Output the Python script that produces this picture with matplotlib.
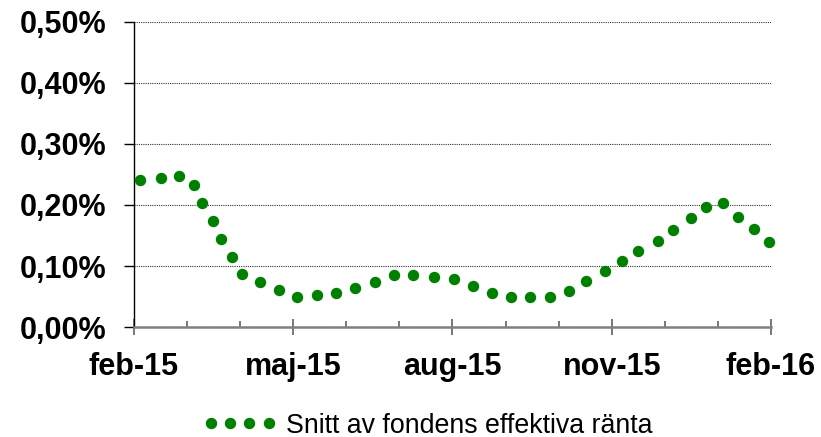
import matplotlib
matplotlib.use("Agg")
import matplotlib.pyplot as plt
from matplotlib.ticker import FuncFormatter, MultipleLocator, FixedLocator
import calendar
import numpy as np

# data
dates = [
    "2015-02-04", "2015-02-15", "2015-02-25", "2015-03-05", "2015-03-10",
    "2015-03-16", "2015-03-21", "2015-03-27", "2015-04-02", "2015-04-12",
    "2015-04-23", "2015-05-03", "2015-05-15", "2015-05-26", "2015-06-06",
    "2015-06-17", "2015-06-28", "2015-07-09", "2015-07-21", "2015-08-02",
    "2015-08-13", "2015-08-24", "2015-09-04", "2015-09-15", "2015-09-26",
    "2015-10-07", "2015-10-17", "2015-10-28", "2015-11-07", "2015-11-16",
    "2015-11-27", "2015-12-06", "2015-12-16", "2015-12-25", "2016-01-04",
    "2016-01-13", "2016-01-22", "2016-01-31",
]
rate = [
    0.241, 0.245, 0.248, 0.232, 0.203, 0.174, 0.144, 0.115, 0.087, 0.074,
    0.060, 0.049, 0.052, 0.056, 0.064, 0.074, 0.085, 0.085, 0.082, 0.078,
    0.067, 0.056, 0.049, 0.049, 0.049, 0.059, 0.075, 0.092, 0.109, 0.125,
    0.141, 0.159, 0.178, 0.196, 0.203, 0.181, 0.161, 0.140,
]
series_label = "Snitt av fondens effektiva ränta"
sv_months = ["jan", "feb", "mar", "apr", "maj", "jun",
             "jul", "aug", "sep", "okt", "nov", "dec"]
start_year, start_month = 2015, 2


def month_pos(d):
    # Excel-style month axis: every month gets the same width
    y, m, day = (int(p) for p in d.split("-"))
    ndays = calendar.monthrange(y, m)[1]
    return (y - start_year) * 12 + (m - start_month) + (day - 1) / ndays


def month_label(v, pos):
    k = int(round(v)) + start_month - 1
    return "%s-%02d" % (sv_months[k % 12], (start_year + k // 12) % 100)


plt.rcParams['font.family'] = ['Liberation Sans', 'DejaVu Sans']

fig = plt.figure(figsize=(8.21, 4.37), dpi=100)
ax = fig.add_axes([0.1632, 0.2517, 0.7759, 0.698])

x = [month_pos(d) for d in dates]
ax.plot(x, rate, linestyle="none", marker="o", markersize=7.2,
        color="#008000", label=series_label, clip_on=False, zorder=3)

ax.set_xlim(0, 12)
ax.set_ylim(0, 0.5)

ax.xaxis.set_major_locator(FixedLocator(np.arange(0, 13, 3)))
ax.xaxis.set_minor_locator(FixedLocator(np.arange(0, 13, 1)))
ax.xaxis.set_major_formatter(FuncFormatter(month_label))

ax.yaxis.set_major_locator(MultipleLocator(0.1))
ax.yaxis.set_major_formatter(FuncFormatter(
    lambda v, p: ("%.2f%%" % v).replace(".", ",")))

ax.grid(axis="y", linestyle=(0, (1, 1)), color="#333333", linewidth=0.8)
ax.set_axisbelow(True)

for s in ["top", "right"]:
    ax.spines[s].set_visible(False)
ax.spines["left"].set_color("black")
ax.spines["left"].set_linewidth(1.0)
ax.spines["bottom"].set_color("#808080")
ax.spines["bottom"].set_linewidth(1.8)

ax.tick_params(axis="y", direction="out", length=7, width=1, pad=13,
               labelsize=22)
ax.tick_params(axis="x", which="major", direction="inout", length=11.5,
               width=1.2, color="#606060", pad=12, labelsize=22)
ax.tick_params(axis="x", which="minor", direction="in", length=4.5,
               width=1.2, color="#606060")
for lbl in ax.get_xticklabels() + ax.get_yticklabels():
    lbl.set_fontweight("bold")

fig.legend(loc="center", bbox_to_anchor=(0.521, 0.026), frameon=False,
           numpoints=4, handlelength=2.75, handletextpad=0.35,
           fontsize=19.3)

fig.savefig("out.png", dpi=100)
